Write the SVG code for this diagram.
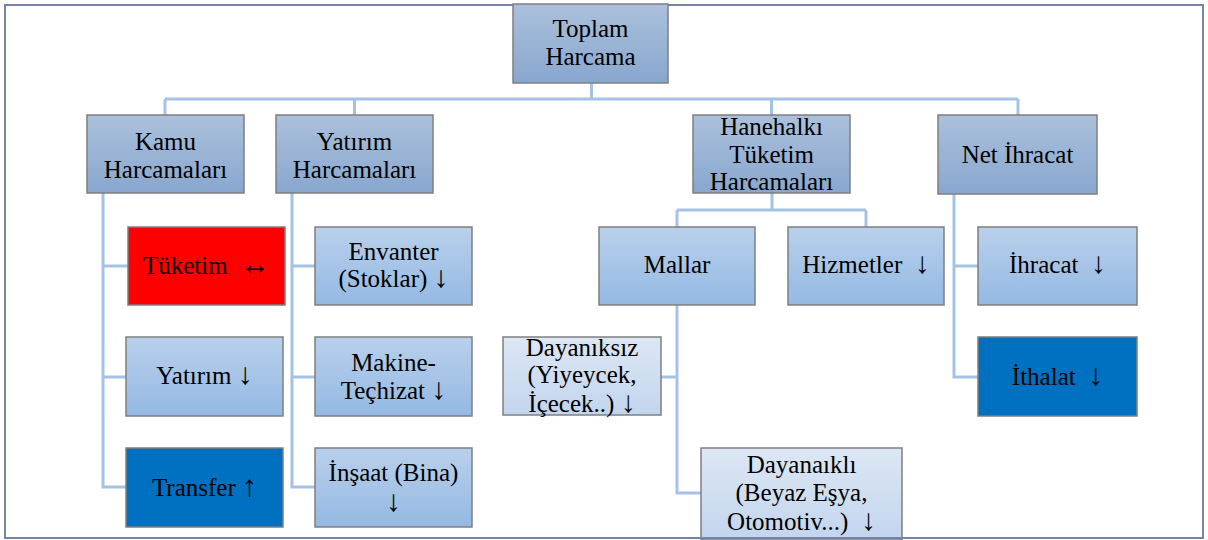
<svg xmlns="http://www.w3.org/2000/svg" width="1208" height="540" viewBox="0 0 1208 540">
<defs>
<linearGradient id="g1" x1="0" y1="0" x2="0" y2="1"><stop offset="0" stop-color="#abc0dc"/><stop offset="1" stop-color="#88a7ce"/></linearGradient>
<linearGradient id="g2" x1="0" y1="0" x2="0" y2="1"><stop offset="0" stop-color="#b9d0eb"/><stop offset="1" stop-color="#94b9e3"/></linearGradient>
<linearGradient id="g3" x1="0" y1="0" x2="0" y2="1"><stop offset="0" stop-color="#dde7f4"/><stop offset="1" stop-color="#c2d5ee"/></linearGradient>
</defs>
<style>
.b{stroke:#7f7f7f;stroke-width:1.5}
.l1{fill:url(#g1)}
.l2{fill:url(#g2)}
.l3{fill:url(#g3)}
.red{fill:#ff0000}
.dk{fill:#0070c0}
text{font-family:"Liberation Serif","Times New Roman","DejaVu Serif",serif;font-size:25px;fill:#000;text-anchor:middle}
.a{font-size:30px}
.c{fill:none;stroke:#a4c2e6;stroke-width:3}
</style>
<rect x="5" y="5" width="1198" height="533" fill="#fff" stroke="#7585a8" stroke-width="2"/>
<g id="connectors">
<path class="c" d="M591.5 83V99M165 99H1018M165 99V115M354.5 99V115M771.5 99V115M1018 99V115"/>
<path class="c" d="M103 193V487H126M103 266H128M103 377H126"/>
<path class="c" d="M292 193V487H315M292 266H315M292 377H315"/>
<path class="c" d="M772 193V210M677 210H866M677 210V227M866 210V227"/>
<path class="c" d="M677 305V493H701M661 377H677"/>
<path class="c" d="M954 194V377H978M954 266H978"/>
</g>
<g id="toplam"><rect class="b l1" x="513" y="4" width="155" height="79"/><text x="590.5" y="37">Toplam</text><text x="590.5" y="65">Harcama</text></g>
<g id="kamu"><rect class="b l1" x="87" y="115" width="157" height="78"/><text x="165.5" y="150">Kamu</text><text x="165.5" y="178">Harcamaları</text></g>
<g id="yatirim"><rect class="b l1" x="276" y="115" width="157" height="78"/><text x="354.5" y="150">Yatırım</text><text x="354.5" y="178">Harcamaları</text></g>
<g id="hanehalki"><rect class="b l1" x="693" y="115" width="157" height="78"/><text x="771.5" y="135">Hanehalkı</text><text x="771.5" y="163">Tüketim</text><text x="771.5" y="190">Harcamaları</text></g>
<g id="net"><rect class="b l1" x="938" y="115" width="159" height="79"/><text x="1017.5" y="163">Net İhracat</text></g>
<g id="tuketim"><rect class="b red" x="128" y="227" width="157" height="78"/><text x="206.5" y="274" xml:space="preserve">Tüketim  <tspan class="a">↔</tspan></text></g>
<g id="kyatirim"><rect class="b l2" x="126" y="337" width="157" height="79"/><text x="204.5" y="384">Yatırım <tspan class="a">↓</tspan></text></g>
<g id="transfer"><rect class="b dk" x="126" y="448" width="157" height="79"/><text x="204.5" y="496">Transfer <tspan class="a">↑</tspan></text></g>
<g id="envanter"><rect class="b l2" x="315" y="227" width="157" height="78"/><text x="393.5" y="260">Envanter</text><text x="393.5" y="287">(Stoklar) <tspan class="a">↓</tspan></text></g>
<g id="makine"><rect class="b l2" x="315" y="337" width="157" height="79"/><text x="393.5" y="371">Makine-</text><text x="393.5" y="399">Teçhizat <tspan class="a">↓</tspan></text></g>
<g id="insaat"><rect class="b l2" x="315" y="448" width="157" height="79"/><text x="393.5" y="481">İnşaat (Bina)</text><text x="393.5" y="511"><tspan class="a">↓</tspan></text></g>
<g id="mallar"><rect class="b l2" x="599" y="227" width="156" height="78"/><text x="677" y="273">Mallar</text></g>
<g id="hizmetler"><rect class="b l2" x="788" y="227" width="156" height="78"/><text x="866" y="273" xml:space="preserve">Hizmetler  <tspan class="a">↓</tspan></text></g>
<g id="dayaniksiz"><rect class="b l3" x="503" y="337" width="158" height="78"/><text x="582" y="356">Dayanıksız</text><text x="582" y="383">(Yiyeycek,</text><text x="582" y="412">İçecek..) <tspan class="a">↓</tspan></text></g>
<g id="dayanikli"><rect class="b l3" x="701" y="448" width="201" height="92"/><text x="801.5" y="473">Dayanaıklı</text><text x="801.5" y="501">(Beyaz Eşya,</text><text x="801.5" y="530" xml:space="preserve">Otomotiv...)  <tspan class="a">↓</tspan></text></g>
<g id="ihracat"><rect class="b l2" x="978" y="227" width="159" height="78"/><text x="1057.5" y="273" xml:space="preserve">İhracat  <tspan class="a">↓</tspan></text></g>
<g id="ithalat"><rect class="b dk" x="978" y="337" width="159" height="79"/><text x="1057.5" y="385" xml:space="preserve">İthalat  <tspan class="a">↓</tspan></text></g>
<line x1="4" y1="538" x2="1204" y2="538" stroke="#7585a8" stroke-width="2"/>
</svg>
